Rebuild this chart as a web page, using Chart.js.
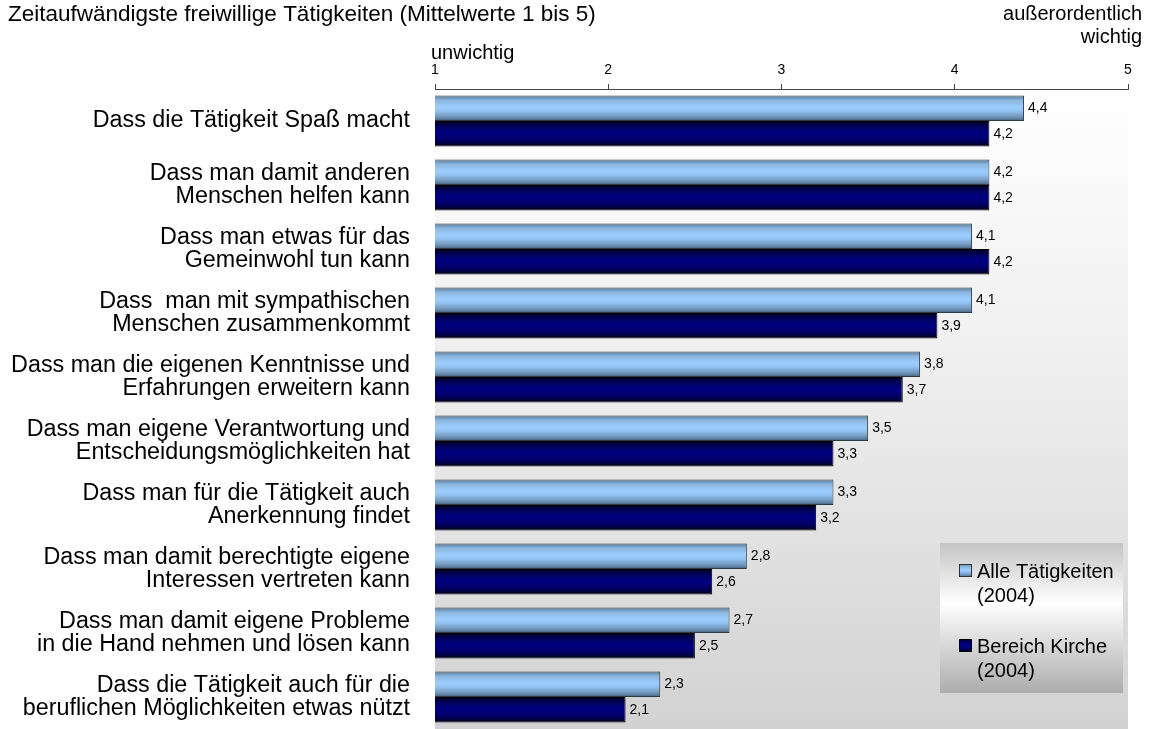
<!DOCTYPE html>
<html>
<head>
<meta charset="utf-8">
<script src="https://cdn.jsdelivr.net/npm/chart.js@4/dist/chart.umd.min.js"></script>
<style>
  html, body { margin: 0; padding: 0; background: #fff; }
  #wrap { width: 1151px; height: 729px; position: relative; }
</style>
</head>
<body>
<div id="wrap"><canvas id="myChart"></canvas></div>
<script>
const categories = [
    ['Dass die Tätigkeit Spaß macht'],
    ['Dass man damit anderen', 'Menschen helfen kann'],
    ['Dass man etwas für das', 'Gemeinwohl tun kann'],
    ['Dass  man mit sympathischen', 'Menschen zusammenkommt'],
    ['Dass man die eigenen Kenntnisse und', 'Erfahrungen erweitern kann'],
    ['Dass man eigene Verantwortung und', 'Entscheidungsmöglichkeiten hat'],
    ['Dass man für die Tätigkeit auch', 'Anerkennung findet'],
    ['Dass man damit berechtigte eigene', 'Interessen vertreten kann'],
    ['Dass man damit eigene Probleme', 'in die Hand nehmen und lösen kann'],
    ['Dass die Tätigkeit auch für die', 'beruflichen Möglichkeiten etwas nützt']
];
const alleTaetigkeiten = [4.4, 4.2, 4.1, 4.1, 3.8, 3.5, 3.3, 2.8, 2.7, 2.3];
const bereichKirche = [4.2, 4.2, 4.2, 3.9, 3.7, 3.3, 3.2, 2.6, 2.5, 2.1];
const seriesNames = [['Alle Tätigkeiten', '(2004)'], ['Bereich Kirche', '(2004)']];
const tickValues = [1, 2, 3, 4, 5];

Chart.defaults.font.family = '"Liberation Sans", Arial, sans-serif';
Chart.defaults.color = '#000';

const lightStops = [[0, '#5b7b9b'], [0.2, '#8cb6df'], [0.45, '#9acdff'], [0.6, '#94c4f4'], [0.85, '#6d91b5'], [1, '#46627f']];
const darkStops = [[0, '#00001a'], [0.25, '#000068'], [0.5, '#000082'], [0.75, '#000066'], [1, '#000014']];

function barFill(stops) {
    return function (c) {
        const chart = c.chart;
        const ys = chart.scales.y;
        if (!ys || c.dataIndex === undefined) return stops[2][1];
        const center = ys.getPixelForValue(c.dataIndex);
        const h = (ys.bottom - ys.top) / categories.length * 0.4;
        if (!Number.isFinite(center) || !Number.isFinite(h) || h <= 0) return stops[2][1];
        const top = c.datasetIndex === 0 ? center - h : center;
        const g = chart.ctx.createLinearGradient(0, top, 0, top + h);
        stops.forEach(s => g.addColorStop(s[0], s[1]));
        return g;
    };
}

const decor = {
    id: 'decor',
    beforeDraw(chart) {
        const { ctx, chartArea: a } = chart;
        const g = ctx.createLinearGradient(0, a.top, 0, a.bottom);
        g.addColorStop(0, '#ffffff');
        g.addColorStop(0.45, '#eeeeee');
        g.addColorStop(1, '#d2d2d2');
        ctx.save();
        ctx.fillStyle = g;
        ctx.fillRect(a.left, a.top, a.right - a.left, a.bottom - a.top);
        ctx.restore();
    },
    afterDatasetsDraw(chart) {
        const ctx = chart.ctx;
        ctx.save();
        ctx.font = '14px "Liberation Sans", Arial, sans-serif';
        ctx.fillStyle = '#000';
        ctx.textBaseline = 'middle';
        ctx.textAlign = 'left';
        chart.data.datasets.forEach((ds, i) => {
            chart.getDatasetMeta(i).data.forEach((bar, j) => {
                ctx.fillText(String(ds.data[j]).replace('.', ','), bar.x + 4, bar.y);
            });
        });
        ctx.restore();
    },
    afterDraw(chart) {
        const ctx = chart.ctx;
        ctx.save();
        ctx.fillStyle = '#000';
        ctx.textBaseline = 'middle';
        ctx.font = '22.5px "Liberation Sans", Arial, sans-serif';
        ctx.textAlign = 'left';
        ctx.fillText('Zeitaufwändigste freiwillige Tätigkeiten (Mittelwerte 1 bis 5)', 8, 15);
        ctx.font = '20px "Liberation Sans", Arial, sans-serif';
        ctx.fillText('unwichtig', 431, 53);
        ctx.textAlign = 'right';
        ctx.fillText('außerordentlich', 1142, 14);
        ctx.fillText('wichtig', 1142, 37);

        // legend box
        const bx = 940, by = 543, bw = 183, bh = 150;
        const lg = ctx.createLinearGradient(0, by, 0, by + bh);
        lg.addColorStop(0, '#c4c4c4');
        lg.addColorStop(0.4, '#ffffff');
        lg.addColorStop(1, '#acacac');
        ctx.fillStyle = lg;
        ctx.fillRect(bx, by, bw, bh);
        const markerY = [564, 639];
        const stops = [lightStops, darkStops];
        const borders = ['#333', '#000'];
        ctx.textAlign = 'left';
        ctx.textBaseline = 'alphabetic';
        seriesNames.forEach((name, i) => {
            const my = markerY[i];
            const mg = ctx.createLinearGradient(0, my, 0, my + 13);
            stops[i].forEach(s => mg.addColorStop(s[0], s[1]));
            ctx.fillStyle = mg;
            ctx.fillRect(959, my, 13, 13);
            ctx.strokeStyle = borders[i];
            ctx.lineWidth = 1;
            ctx.strokeRect(959.5, my + 0.5, 12, 12);
            ctx.fillStyle = '#000';
            ctx.fillText(name[0], 977, my + 14);
            ctx.fillText(name[1], 977, my + 38);
        });
        ctx.restore();
    }
};

new Chart(document.getElementById('myChart').getContext('2d'), {
    type: 'bar',
    data: {
        labels: categories,
        datasets: [{
            label: seriesNames[0].join(' '),
            data: alleTaetigkeiten,
            backgroundColor: barFill(lightStops),
            borderColor: '#2e3a46',
            borderWidth: 1,
            borderSkipped: false,
            categoryPercentage: 0.8,
            barPercentage: 1.0
        }, {
            label: seriesNames[1].join(' '),
            data: bereichKirche,
            backgroundColor: barFill(darkStops),
            borderColor: '#000',
            borderWidth: 1,
            borderSkipped: false,
            categoryPercentage: 0.8,
            barPercentage: 1.0
        }]
    },
    options: {
        indexAxis: 'y',
        responsive: true,
        maintainAspectRatio: false,
        animation: false,
        layout: { padding: { top: 0, right: 23, bottom: 0, left: 0 } },
        plugins: {
            legend: { display: false },
            tooltip: { enabled: false }
        },
        scales: {
            x: {
                position: 'top',
                min: 1,
                max: 5,
                afterBuildTicks: scale => { scale.ticks = tickValues.map(v => ({ value: v })); },
                afterFit: scale => { scale.height = 89; scale.paddingLeft = 0; scale.paddingRight = 0; },
                ticks: { font: { size: 14 }, padding: 5, color: '#000' },
                grid: { drawOnChartArea: false, drawTicks: true, tickLength: 5, color: '#444' },
                border: { display: true, color: '#444' }
            },
            y: {
                afterFit: scale => { scale.width = 435; scale.paddingTop = 0; scale.paddingBottom = 0; },
                ticks: { font: { size: 23.3, lineHeight: 1.0 }, padding: 25, color: '#000' },
                grid: { display: false, drawTicks: false },
                border: { display: false }
            }
        }
    },
    plugins: [decor]
});
</script>
</body>
</html>
